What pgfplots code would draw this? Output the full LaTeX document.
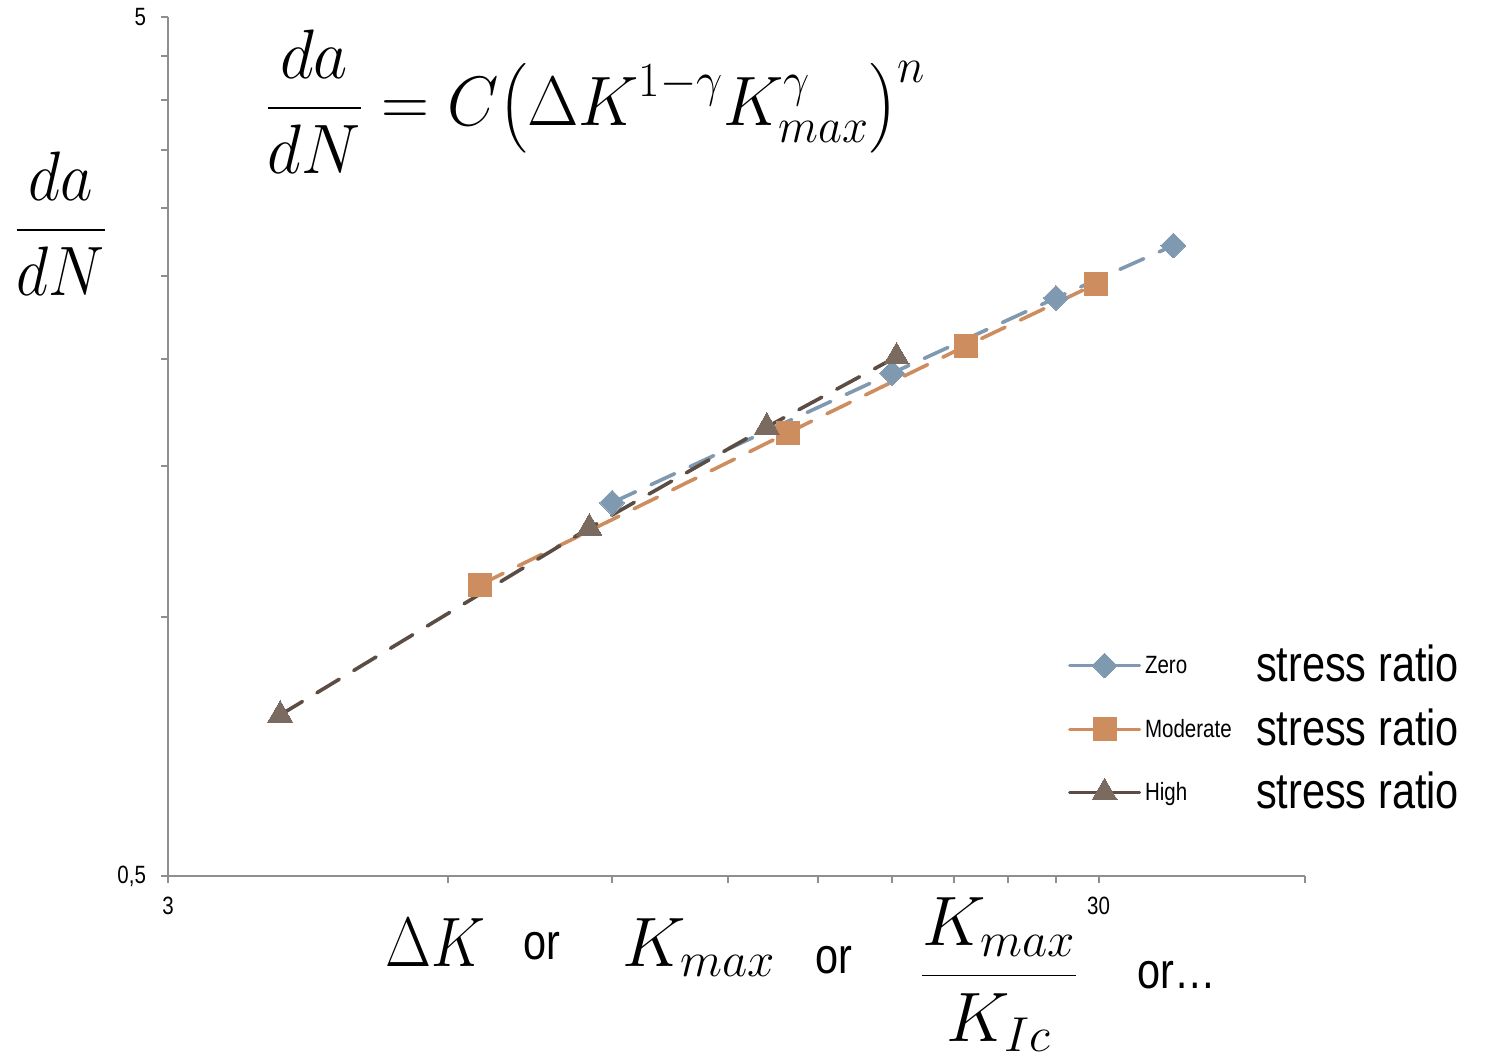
\RequirePackage{fix-cm}
\documentclass[border=0pt]{standalone}
\usepackage[no-math]{fontspec}
\usepackage{amsmath}
\usepackage{graphicx}
\newfontfamily\narrow{Liberation Sans}[FakeStretch=0.82]
\usepackage{pgfplots}
\pgfplotsset{compat=1.18}
\definecolor{axisgray}{HTML}{8E8E8E}
\definecolor{zerocol}{HTML}{7F99B1}
\definecolor{modcol}{HTML}{CE8D5E}
\definecolor{highline}{HTML}{5B4C44}
\definecolor{highmark}{HTML}{7B6A5F}
\newcommand{\bigmath}{\fontsize{35}{42}\selectfont}
\newcommand{\bigsans}{\fontsize{25.3}{30}\narrow}
\newcommand{\smallsans}{\fontsize{12.5}{15}\narrow}
\begin{document}
\begin{tikzpicture}
\useasboundingbox (0pt,0pt) rectangle (743pt,529.5pt);
\begin{axis}[
  at={(84pt,91.5pt)}, anchor=south west,
  scale only axis, width=568.5pt, height=429.5pt,
  xmode=log, ymode=log,
  xmin=3, xmax=50, ymin=0.5, ymax=5,
  axis x line=bottom, axis y line=left,
  axis line style={-, draw=axisgray, line width=1pt},
  xtick={3,30,50}, xticklabels={3,30,{}},
  minor xtick={6,9,12,15,18,21,24,27},
  ytick={0.5,5}, yticklabels={{0,5},5},
  minor ytick={1,1.5,2,2.5,3,3.5,4,4.5},
  tick align=outside,
  major tick length=3.5pt, minor tick length=3.5pt,
  every tick/.style={draw=axisgray, line width=1pt},
  tick label style={font=\smallsans},
  /pgf/number format/assume math mode=true,
  xticklabel style={yshift=-3.5pt},
  yticklabel style={xshift=-4pt},
  legend style={at={(0.7916,0.1711)}, anchor=west, draw=none, fill=none,
    inner sep=0pt, outer sep=0pt, row sep=11.75pt, column sep=2pt,
    nodes={inner sep=0pt, text height=18pt, text depth=2pt}},
  legend cell align=left,
  legend image code/.code={
    \draw[mark repeat=2, mark phase=2, #1, solid, line width=1.5pt]
      plot coordinates {(0pt,0pt) (17.5pt,0pt) (35pt,0pt)};
  },
]
\addplot[zerocol, line width=1.8pt, line cap=round, dash pattern=on 13pt off 8.5pt,
  mark=square*, mark size=4.4pt,
  mark options={solid, rotate=45, fill=zerocol, draw=zerocol, line width=0pt}]
  coordinates {(9.0,1.36) (18.0,1.925) (27.0,2.355) (36.1,2.71)};
\addlegendentry{\raisebox{4pt}{\makebox[55.5pt][l]{\smallsans Zero}}{\bigsans stress ratio}}
\addplot[modcol, line width=1.8pt, line cap=round, dash pattern=on 13pt off 8.5pt,
  mark=square*, mark size=5.75pt,
  mark options={solid, fill=modcol, draw=modcol, line width=0pt}]
  coordinates {(6.49,1.091) (13.9,1.64) (21.6,2.07) (29.8,2.444)};
\addlegendentry{\raisebox{4pt}{\makebox[55.5pt][l]{\smallsans Moderate}}{\bigsans stress ratio}}
\addplot[highline, line width=1.8pt, line cap=round, dash pattern=on 13pt off 8.5pt,
  mark=triangle*, mark size=7.2pt,
  mark options={solid, fill=highmark, draw=highmark, line width=0pt}]
  coordinates {(3.96,0.77) (8.51,1.271) (13.2,1.666) (18.2,2.011)};
\addlegendentry{\raisebox{4pt}{\makebox[55.5pt][l]{\smallsans High}}{\bigsans stress ratio}}
\end{axis}
% formula and labels
\node[anchor=base west, inner sep=0pt] at (132.5pt,466.75pt)
  {\bigmath\scalebox{0.95}[1]{$\displaystyle \frac{da}{dN} = C{\left(\Delta K^{1-\gamma} K_{max}^{\gamma}\right)}^{n}$}};
\node[anchor=base, inner sep=0pt] at (30.5pt,405.75pt)
  {\bigmath\scalebox{0.9}[1]{$\displaystyle \frac{da}{dN}$}};
\node[anchor=base west, inner sep=0pt] at (192.5pt,46.5pt) {\bigmath\scalebox{0.85}[1]{$\Delta K$}};
\node[anchor=base west, inner sep=0pt] at (261.5pt,50pt) {\bigsans or};
\node[anchor=base west, inner sep=0pt] at (311pt,46.5pt) {\bigmath $K_{max}$};
\node[anchor=base west, inner sep=0pt] at (407.5pt,43pt) {\bigsans or};
\node[anchor=base, inner sep=0pt] at (499.5pt,33pt)
  {\bigmath $\displaystyle \frac{K_{max}}{K_{Ic}}$};
\node[anchor=base west, inner sep=0pt] at (568.5pt,35.5pt) {\bigsans or…};
\end{tikzpicture}
\end{document}
